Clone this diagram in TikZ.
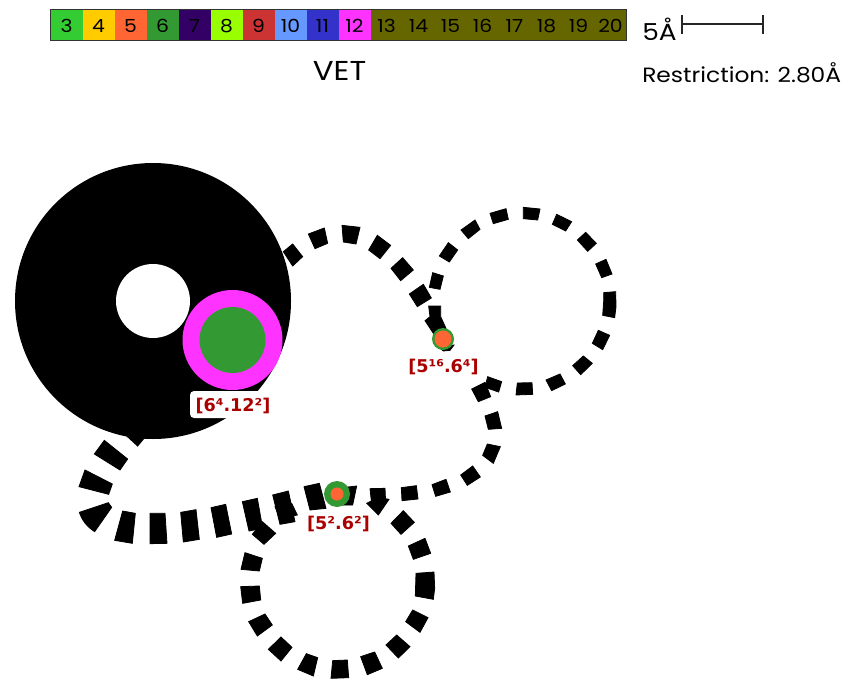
\documentclass[tikz,border=0pt]{standalone}
\usepackage{fontspec}
\setmainfont[FakeStretch=1.13]{Poppins}
\newfontfamily\labfont{DejaVu Sans}
\definecolor{c3}{HTML}{33CC33}
\definecolor{c4}{HTML}{FFCC00}
\definecolor{c5}{HTML}{FF6633}
\definecolor{c6}{HTML}{339933}
\definecolor{c7}{HTML}{330066}
\definecolor{c8}{HTML}{99FF00}
\definecolor{c9}{HTML}{CC3333}
\definecolor{c10}{HTML}{6699FF}
\definecolor{c11}{HTML}{3333CC}
\definecolor{c12}{HTML}{FF33FF}
\definecolor{c13}{HTML}{666600}
\definecolor{labred}{HTML}{AA0000}
\tikzset{
  cell/.style={font=\fontsize{13.5}{14}\selectfont,text=black,anchor=center,inner sep=0pt},
  ring/.style={circle,inner sep=0pt},
  vertexlabel/.style={font=\labfont\bfseries\fontsize{13.2}{14}\selectfont,text=labred,inner sep=0pt,anchor=center},
  zoomed/.style={x=.25pt,y=-.25pt},
  dashblock/.style={fill=black,draw=black,line width=.6pt}
}
\newcommand{\dashpoly}[8]{\path[dashblock] (#1,#2)--(#3,#4)--(#5,#6)--(#7,#8)--cycle;}
\begin{document}
\begin{tikzpicture}[x=.75pt,y=-.75pt]
\useasboundingbox (0,0) rectangle (849,681);
% legend
\foreach \n/\k in {3/0,4/1,5/2,6/3,7/4,8/5,9/6,10/7,11/8,12/9}{
  \fill[c\n] ({50.5+32*\k},9.5) rectangle ({82.5+32*\k},40.5);
  \node[cell] (leg\n) at ({66.5+32*\k},26) {\n};
}
\fill[c13] (370.5,9.5) rectangle (626.5,40.5);
\foreach \n/\k in {13/0,14/1,15/2,16/3,17/4,18/5,19/6,20/7}{
  \node[cell] (leg\n) at ({386.5+32*\k},26) {\n};
}
\draw[black!80,line width=1.1pt] (50.5,9.5) rectangle (626.5,40.5);
\node[anchor=center,inner sep=0pt,font=\fontsize{20.5}{22}\selectfont] (title) at (339.5,71) {VET};
\node[anchor=west,inner sep=0pt,font=\fontsize{17.5}{18}\selectfont] (five) at (642,29) {5Å};
\node[anchor=west,inner sep=0pt,font=\fontsize{15.5}{18}\selectfont] (restr) at (642,73) {Restriction: 2.80Å};
\coordinate (sbl) at (682,24);
\coordinate (sbr) at (763,24);
\draw[line width=.8pt,black!85] (sbl) -- (sbr);
\draw[line width=.8pt,black!85] (682,15) -- (682,34);
\draw[line width=.8pt,black!85] (763,15) -- (763,34);
% big circle
\fill[black] (153,301) circle[radius=138];
\fill[white] (153,301) circle[radius=37];
% upper left loop, zoom 4 coordinates
\begin{scope}[shift={(270,200)},zoomed]
\dashpoly{40}{155}{68}{132}{98}{170}{68}{198}
\dashpoly{115}{102}{163}{84}{173}{130}{135}{146}
\dashpoly{216}{76}{270}{82}{258}{132}{220}{126}
\dashpoly{322}{106}{362}{136}{330}{176}{296}{150}
\dashpoly{398}{173}{430}{210}{392}{242}{363}{205}
\dashpoly{460}{253}{484}{294}{442}{320}{418}{282}
\path[dashblock] (476,318)--(512,318)--(512,350)--(528,385)--(490,400)--(465,362)--(480,350)--cycle;
\dashpoly{505}{440}{552}{435}{540}{451}{520}{453}
\end{scope}
% right loop, zoom 6 coordinates
\begin{scope}[shift={(420,200)},zoomed]
\dashpoly{38}{218}{70}{228}{60}{268}{28}{262}
\dashpoly{85}{128}{113}{150}{88}{186}{58}{168}
\dashpoly{123}{90}{165}{60}{180}{88}{145}{116}
\dashpoly{210}{40}{258}{26}{265}{58}{220}{71}
\dashpoly{310}{22}{360}{27}{353}{60}{310}{56}
\dashpoly{410}{43}{455}{65}{437}{93}{397}{73}
\dashpoly{497}{97}{529}{130}{503}{154}{472}{120}
\dashpoly{558}{178}{576}{222}{545}{233}{527}{192}
\path[dashblock] (551,278)--(587,275)--(588,320)--(584,353)--(548,346)--(551,305)--cycle;
\dashpoly{535}{391}{569}{406}{548}{449}{517}{430}
\dashpoly{490}{468}{517}{490}{482}{524}{458}{497}
\dashpoly{420}{522}{436}{552}{395}{572}{378}{540}
\dashpoly{292}{549}{336}{548}{338}{583}{288}{585}
\dashpoly{203}{530}{245}{545}{236}{576}{195}{562}
\dashpoly{155}{567}{195}{547}{212}{590}{175}{605}
\end{scope}
% lower loop and path, zoom 5 coordinates
\begin{scope}[shift={(230,380)},zoomed]
\dashpoly{765}{108}{803}{95}{815}{145}{775}{148}
\dashpoly{772}{192}{811}{200}{790}{250}{758}{226}
\dashpoly{728}{258}{751}{291}{712}{316}{692}{285}
\dashpoly{648}{298}{661}{336}{617}{349}{606}{314}
\dashpoly{514}{323}{559}{317}{564}{357}{516}{362}
\dashpoly{420}{326}{465}{325}{467}{370}{425}{372}
\dashpoly{410}{370}{445}{352}{477}{358}{445}{405}
\dashpoly{320}{325}{380}{318}{368}{375}{320}{375}
\dashpoly{222}{320}{268}{310}{288}{385}{240}{390}
\dashpoly{45}{518}{97}{535}{88}{573}{33}{568}
\dashpoly{32}{620}{88}{618}{92}{660}{38}{670}
\dashpoly{56}{725}{105}{702}{127}{735}{82}{768}
\dashpoly{115}{808}{153}{771}{186}{802}{153}{843}
\dashpoly{203}{868}{229}{821}{263}{833}{250}{888}
\dashpoly{303}{895}{308}{842}{352}{840}{356}{893}
\dashpoly{392}{830}{434}{816}{457}{865}{412}{884}
\dashpoly{468}{795}{500}{765}{540}{800}{505}{834}
\dashpoly{527}{725}{548}{690}{594}{713}{570}{757}
\path[dashblock] (558,580)--(612,576)--(614,625)--(610,658)--(556,648)--cycle;
\dashpoly{535}{498}{585}{475}{602}{520}{550}{538}
\dashpoly{483}{430}{520}{392}{553}{427}{513}{463}
\end{scope}
% left part of lower path, zoom 3 coordinates
\begin{scope}[shift={(60,380)},zoomed]
\dashpoly{638}{345}{685}{333}{705}{425}{660}{433}
\dashpoly{645}{380}{695}{370}{712}{405}{660}{415}
\dashpoly{547}{365}{592}{355}{608}{445}{567}{453}
\dashpoly{577}{463}{607}{425}{647}{460}{612}{493}
\dashpoly{453}{383}{497}{373}{515}{462}{470}{472}
\dashpoly{362}{397}{408}{389}{418}{478}{370}{486}
\dashpoly{270}{400}{315}{400}{321}{490}{270}{491}
\dashpoly{188}{393}{226}{400}{217}{490}{164}{481}
\path[dashblock] (58,397)--(145,368)--(155,382)--(104,455)..controls (80,440) and (66,420)..(58,397)--cycle;
\dashpoly{75}{270}{157}{312}{146}{343}{57}{320}
\dashpoly{133}{181}{203}{237}{180}{270}{103}{222}
\fill (195,165)--(233,200)--(258,170)--cycle;
\end{scope}
% vertices
\node[ring,fill=c12,minimum size=100*.75pt] (mag) at (232.5,340) {};
\node[ring,fill=c6,minimum size=66*.75pt] (mag6) at (mag) {};
\node[ring,fill=c6,minimum size=22*.75pt] (vA) at (443,339) {};
\node[ring,fill=c5,minimum size=17*.75pt] (vAin) at (vA) {};
\node[ring,fill=c6,minimum size=26*.75pt] (vB) at (337,494) {};
\node[ring,fill=c5,minimum size=13*.75pt] (vBin) at (vB) {};
% labels
\fill[white,rounded corners=3pt] (190,391) rectangle (272,418);
\node[vertexlabel] (lab1) at (233,406) {[6⁴.12²]};
\node[vertexlabel] (lab2) at (443.5,367) {[5¹⁶.6⁴]};
\node[vertexlabel] (lab3) at (338.5,523.5) {[5².6²]};
\end{tikzpicture}
\end{document}
